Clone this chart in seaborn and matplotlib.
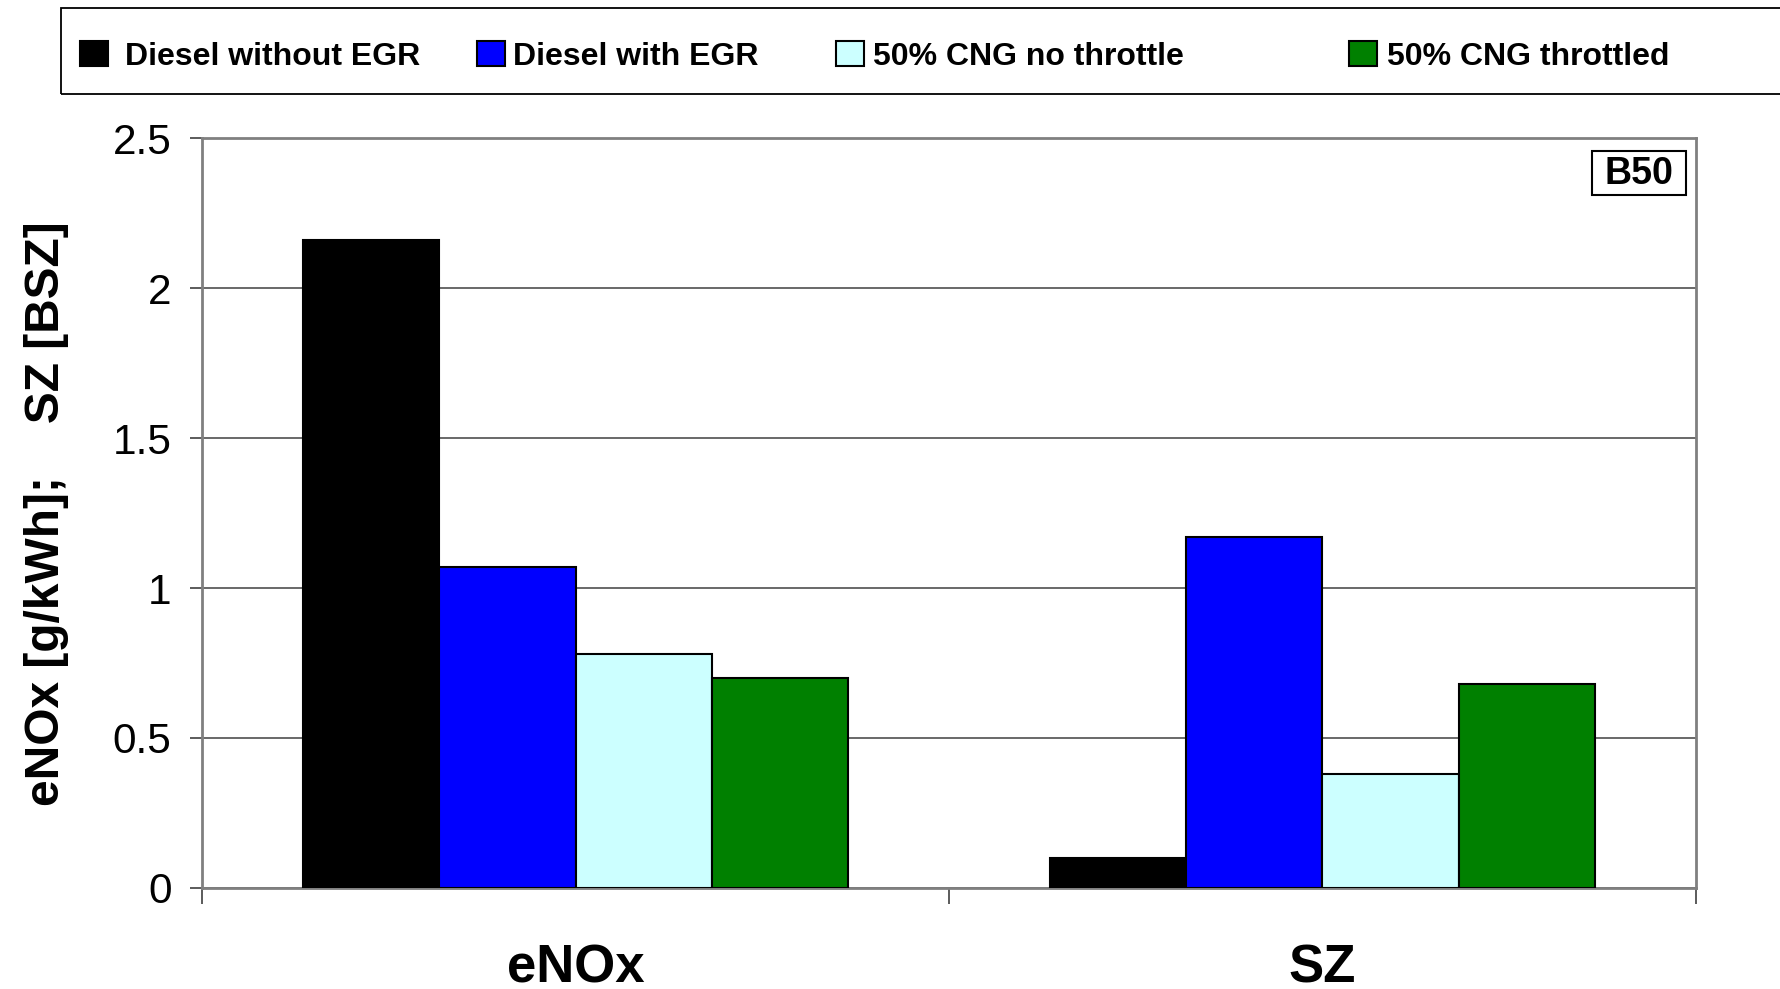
import matplotlib
matplotlib.use("Agg")
import matplotlib.pyplot as plt
from matplotlib.patches import Rectangle, Patch
import pandas as pd
import seaborn as sns

# Data
categories = ["eNOx", "SZ"]
series = ["Diesel without EGR", "Diesel with EGR", "50% CNG no throttle", "50% CNG throttled"]
diesel_no_egr = [2.16, 0.10]
diesel_egr = [1.07, 1.17]
cng_no_throttle = [0.78, 0.38]
cng_throttled = [0.70, 0.68]
colors = ["#000000", "#0000FF", "#CCFFFF", "#008000"]
y_ticks = [0, 0.5, 1, 1.5, 2, 2.5]
y_tick_labels = ["0", "0.5", "1", "1.5", "2", "2.5"]
y_label = "eNOx [g/kWh];    SZ [BSZ]"
tag = "B50"

sns.set_theme(style="white")
plt.rcParams["font.family"] = ["Liberation Sans", "DejaVu Sans"]
plt.rcParams["text.color"] = "black"
plt.rcParams["axes.labelcolor"] = "black"
plt.rcParams["xtick.color"] = "black"
plt.rcParams["ytick.color"] = "black"

df = pd.DataFrame({
    "category": categories * len(series),
    "series": [s for s in series for _ in categories],
    "value": diesel_no_egr + diesel_egr + cng_no_throttle + cng_throttled,
})

fig = plt.figure(figsize=(17.8, 9.89), dpi=100)
fig.patch.set_facecolor("white")
ax = fig.add_axes([0.1135, 0.1024, 0.8393, 0.7576])

sns.barplot(
    data=df, x="category", y="value", hue="series",
    order=categories, hue_order=series, palette=colors,
    width=0.73, saturation=1, edgecolor="black", linewidth=1.5,
    legend=False, ax=ax, zorder=3,
)

ax.set_xlim(-0.5, 1.5)
ax.set_ylim(0, 2.5)
ax.set_axisbelow(True)
ax.yaxis.grid(True, color="#404040", linewidth=1.1)
ax.xaxis.grid(False)
for sp in ax.spines.values():
    sp.set_visible(True)
    sp.set_color("#808080")
    sp.set_linewidth(2)

ax.set_yticks(y_ticks, y_tick_labels)
ax.tick_params(axis="y", direction="out", length=9, width=1.2, color="#404040",
               labelsize=30.5, pad=13, left=True, labelcolor="black")
ax.set_xticks(range(len(categories)), categories)
ax.set_xticks([-0.5, 0.5, 1.5], minor=True)
ax.tick_params(axis="x", which="major", length=0, pad=40, labelsize=38, labelcolor="black")
ax.tick_params(axis="x", which="minor", direction="out", length=11.5, width=1.2,
               color="#404040", bottom=True)
for lbl in ax.get_xticklabels():
    lbl.set_fontweight("bold")
ax.set_xlabel("")
ax.set_ylabel("")

fig.text(0.026, 0.481, y_label, rotation=90, fontsize=34.5, fontweight="bold",
         ha="center", va="center", color="black")

# Tag box in the upper right of the plot area
fig.add_artist(Rectangle((0.8944, 0.8028), 0.0528, 0.0445, transform=fig.transFigure,
                         facecolor="white", edgecolor="black", linewidth=1.5, zorder=5))
fig.text(0.9208, 0.8245, tag, fontsize=27, fontweight="bold", ha="center", va="center",
         color="black", zorder=6)

# Legend frame and entries
fig.add_artist(Rectangle((0.0343, 0.905), 1.0, 0.0869, transform=fig.transFigure,
                         fill=False, edgecolor="black", linewidth=1.3))
handle_x = [79.5 / 1780, 476.8 / 1780, 835.5 / 1780, 1348.6 / 1780]
text_pads = [0.53, 0.26, 0.28, 0.32]
for name, col, hx, tp in zip(series, colors, handle_x, text_pads):
    fig.legend(handles=[Patch(facecolor=col, edgecolor="black", linewidth=1.5)], labels=[name],
               loc="center left", bbox_to_anchor=(hx, 0.943), frameon=False,
               handlelength=0.88, handleheight=0.8, handletextpad=tp,
               borderpad=0, borderaxespad=0, labelcolor="black",
               prop={"size": 23, "weight": "bold"})

fig.savefig("out.png", dpi=100, facecolor="white")
